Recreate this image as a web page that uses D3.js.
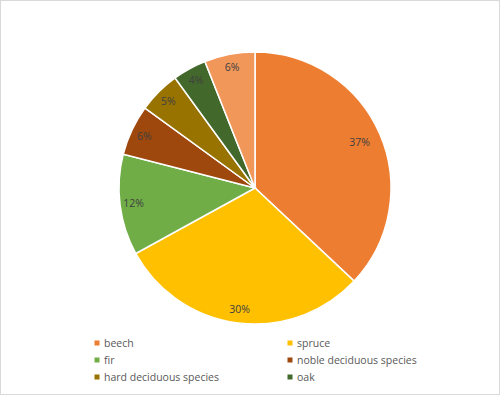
<!DOCTYPE html>
<html>
<head>
<meta charset="utf-8">
<script src="https://cdn.jsdelivr.net/npm/d3@7"></script>
<style>
  body { margin: 0; background: #fff; }
  text { font-family: "Open Sans", "DejaVu Sans", sans-serif; }
</style>
</head>
<body>
<div id="chart"></div>
<script>
var species = ["beech", "spruce", "fir", "noble deciduous species", "hard deciduous species", "oak", "other"];
var shares = [37, 30, 12, 6, 5, 4, 6];
var colors = ["#ED7D31", "#FFC000", "#70AD47", "#9E480E", "#997300", "#43682B", "#F1975A"];
// legend only lists the first six
var legendItems = species.slice(0, 6);

var svgWidth = 500;
var svgHeight = 395;
var cx = 255, cy = 188, radius = 136;

var svg = d3.select("#chart")
  .append("svg")
  .attr("width", svgWidth)
  .attr("height", svgHeight);

// outer frame
svg.append("rect")
  .attr("x", 0.5).attr("y", 0.5)
  .attr("width", svgWidth - 1).attr("height", svgHeight - 1)
  .attr("fill", "#fff")
  .attr("stroke", "#d9d9d9");

var data = species.map(function(s, i) { return { name: s, value: shares[i], color: colors[i] }; });

var pie = d3.pie().sort(null).value(d => d.value);
var arc = d3.arc().innerRadius(0).outerRadius(radius);
var labelArc = d3.arc().innerRadius(radius * 0.9).outerRadius(radius * 0.9);

var pieGroup = svg.append("g")
  .attr("transform", `translate(${cx}, ${cy})`);

var slices = pieGroup.selectAll("path")
  .data(pie(data))
  .enter()
  .append("path")
  .attr("d", arc)
  .attr("fill", d => d.data.color)
  .attr("stroke", "#fff")
  .attr("stroke-width", 1.5);

pieGroup.selectAll("text")
  .data(pie(data))
  .enter()
  .append("text")
  .attr("transform", function(d) {
    var c = labelArc.centroid(d);
    // the big slice's label sits a bit further in
    if (d.data.value > 35) { c = [c[0] * 0.93, c[1] * 0.93]; }
    return `translate(${c[0]}, ${c[1]})`;
  })
  .attr("text-anchor", "middle")
  .attr("dy", "0.35em")
  .attr("font-size", "10.5px")
  .attr("fill", "#404040")
  .text(d => d.data.value + "%");

// legend
var legend = svg.append("g");
var cols = [97, 290];
var rows = [343, 360, 377];

var items = legend.selectAll("g")
  .data(legendItems)
  .enter()
  .append("g")
  .attr("transform", (d, i) => `translate(${cols[i % 2]}, ${rows[Math.floor(i / 2)]})`);

items.append("rect")
  .attr("x", -2.5).attr("y", -2.5)
  .attr("width", 5).attr("height", 5)
  .attr("fill", (d, i) => colors[i]);

items.append("text")
  .attr("x", 7)
  .attr("dy", "0.35em")
  .attr("font-size", "10.5px")
  .attr("fill", "#595959")
  .text(d => d);
</script>
</body>
</html>
